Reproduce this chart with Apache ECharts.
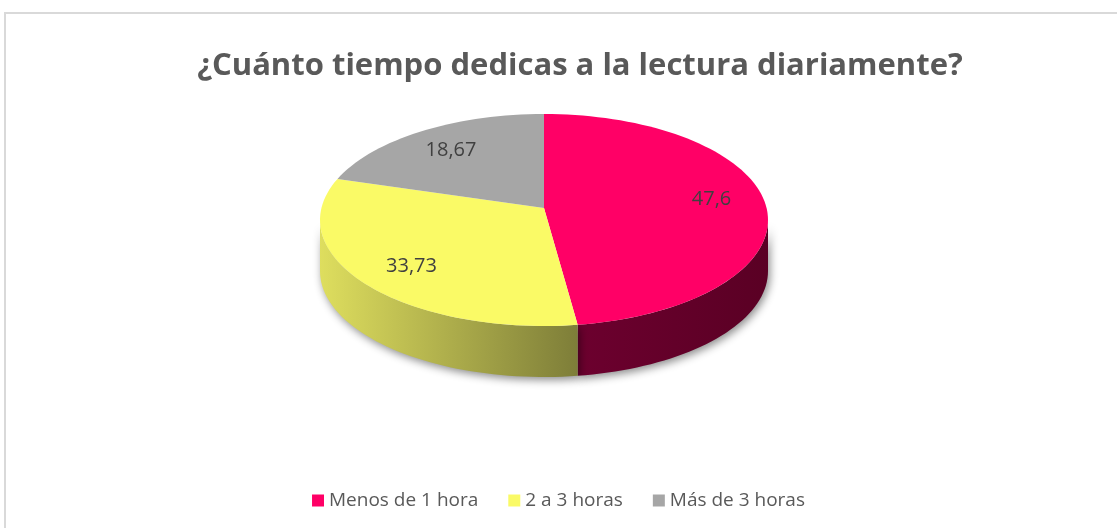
<!DOCTYPE html>
<html>
<head>
<meta charset="utf-8">
<script src="https://cdn.jsdelivr.net/npm/echarts@6/dist/echarts.min.js"></script>
<style>
  html, body { margin: 0; padding: 0; background: #fff; }
  #chart { width: 1117px; height: 528px; }
</style>
</head>
<body>
<div id="chart"></div>
<script>
const categories = ['Menos de 1 hora', '2 a 3 horas', 'Más de 3 horas'];
const values = [47.6, 33.73, 18.67];

const topColors = ['#FF0066', '#FAFA66', '#A6A6A6'];
const FONT = '"Open Sans", "DejaVu Sans", sans-serif';

// pie geometry (pixels)
const CX = 544, CY = 220, RX = 224, RY = 106, DEPTH = 51, APEX_UP = 12;

const total = values.reduce((a, b) => a + b, 0);
const starts = [];
let acc = 0;
values.forEach((v) => { starts.push(acc / total * 360); acc += v; });

function rim(deg) {
  const t = deg * Math.PI / 180;
  return [CX + RX * Math.sin(t), CY - RY * Math.cos(t)];
}

function arcPoints(a, b) {
  const pts = [];
  const n = Math.max(2, Math.ceil((b - a) / 2));
  for (let i = 0; i <= n; i++) pts.push(rim(a + (b - a) * i / n));
  return pts;
}

const sideFills = [
  new echarts.graphic.LinearGradient(582, 0, 768, 0, [
    { offset: 0, color: '#6C002E' }, { offset: 1, color: '#5A0024' }], true),
  new echarts.graphic.LinearGradient(320, 0, 582, 0, [
    { offset: 0, color: '#DEDE5E' }, { offset: 1, color: '#7C7C38' }], true),
  '#8A8A8A',
];

function renderSide(params) {
  const i = params.dataIndex;
  const a = Math.max(starts[i], 90);
  const b = Math.min(starts[i] + values[i] / total * 360, 270);
  if (b <= a) return null;
  const upper = arcPoints(a, b);
  const lower = upper.map((p) => [p[0], p[1] + DEPTH]).reverse();
  return {
    type: 'polygon',
    shape: { points: upper.concat(lower) },
    style: {
      fill: sideFills[i],
      shadowBlur: 8,
      shadowColor: 'rgba(0,0,0,0.45)',
      shadowOffsetX: 2,
      shadowOffsetY: 3,
    },
  };
}

function renderTop(params) {
  const i = params.dataIndex;
  const a = starts[i];
  const b = a + values[i] / total * 360;
  const apex = [CX, CY - APEX_UP];
  const mid = rim((a + b) / 2);
  const k = 0.75;
  return {
    type: 'group',
    children: [
      {
        type: 'polygon',
        shape: { points: [apex].concat(arcPoints(a, b)) },
        style: { fill: topColors[i] },
      },
      {
        type: 'text',
        x: apex[0] + k * (mid[0] - apex[0]),
        y: apex[1] + k * (mid[1] - apex[1]) - (i === 0 ? 12 : 0),
        style: {
          text: String(values[i]).replace('.', ','),
          fill: '#404040',
          font: '20px ' + FONT,
          align: 'center',
          verticalAlign: 'middle',
        },
      },
    ],
  };
}

const chart = echarts.init(document.getElementById('chart'));
chart.setOption({
  animation: false,
  title: {
    text: '¿Cuánto tiempo dedicas a la lectura diariamente?',
    left: 575,
    textAlign: 'center',
    top: 46,
    textStyle: { fontFamily: FONT, fontSize: 31, fontWeight: 'bold', color: '#595959' },
  },
  legend: {
    data: categories,
    left: 'center',
    top: 486,
    icon: 'rect',
    itemWidth: 12,
    itemHeight: 12,
    itemGap: 30,
    textStyle: { fontFamily: FONT, fontSize: 19, color: '#595959' },
  },
  graphic: [
    {
      type: 'rect',
      shape: { x: 5, y: 13, width: 1200, height: 600 },
      style: { fill: 'none', stroke: '#D9D9D9', lineWidth: 2 },
      silent: true,
    },
  ],
  series: [
    {
      name: 'legend',
      type: 'pie',
      center: [-200, -200],
      radius: [0, 1],
      silent: true,
      label: { show: false },
      labelLine: { show: false },
      data: categories.map((name, i) => ({
        name,
        value: values[i],
        itemStyle: { color: topColors[i] },
      })),
    },
    {
      name: 'sides',
      type: 'custom',
      coordinateSystem: 'none',
      z: 1,
      renderItem: renderSide,
      data: values,
    },
    {
      name: 'tops',
      type: 'custom',
      coordinateSystem: 'none',
      z: 2,
      renderItem: renderTop,
      data: values,
    },
  ],
});
</script>
</body>
</html>
